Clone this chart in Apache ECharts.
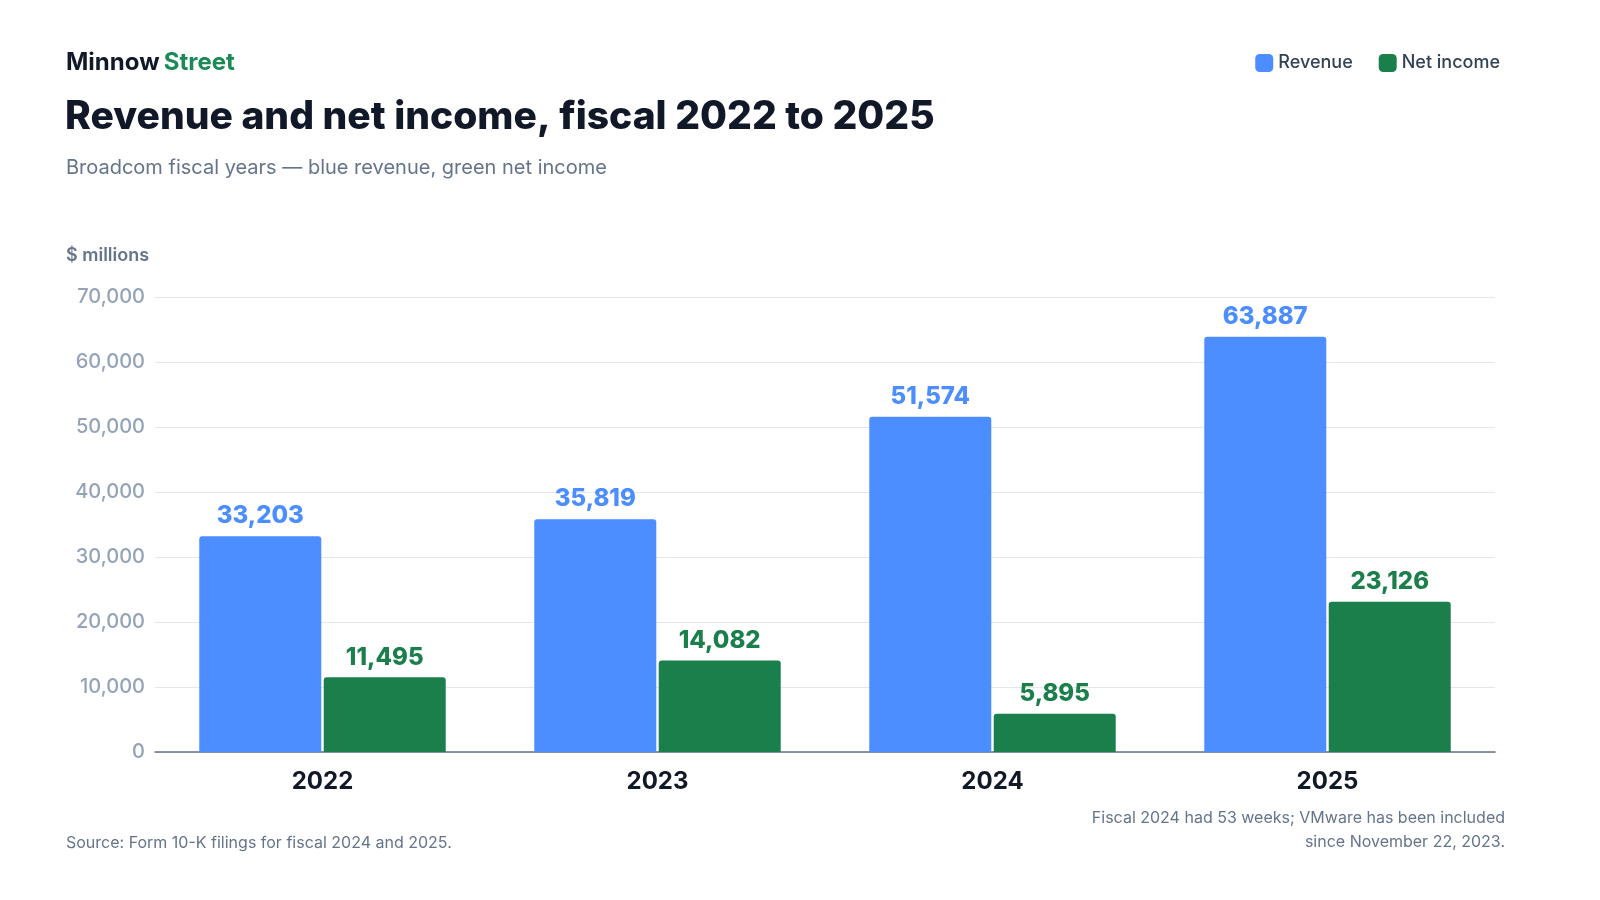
<!DOCTYPE html>
<html><head><meta charset="utf-8">
<script src="https://cdn.jsdelivr.net/npm/echarts@6/dist/echarts.min.js"></script>
<style>html,body{margin:0;padding:0;background:#fff}#c{width:1600px;height:900px}</style>
</head><body><div id="c"></div>
<script>
const years = ['2022', '2023', '2024', '2025'];
const revenue = [33203, 35819, 51574, 63887];
const netIncome = [11495, 14082, 5895, 23126];
const yTicks = [0, 10000, 20000, 30000, 40000, 50000, 60000, 70000];

const chart = echarts.init(document.getElementById('c'));
const fmt = v => v.toLocaleString('en-US');
const F = 'Inter, "Noto Sans", sans-serif';

chart.setOption({
  textStyle: { fontFamily: F },
  title: [
    { text: '{a|Minnow} {b|Street}', left: 61, top: 46,
      textStyle: { rich: {
        a: { fontFamily: F, fontSize: 24, fontWeight: 700, color: '#111827' },
        b: { fontFamily: F, fontSize: 24, fontWeight: 700, color: '#1b8a57' } } } },
    { text: 'Revenue and net income, fiscal 2022 to 2025', left: 60, top: 93,
      textStyle: { fontFamily: F, fontSize: 39, fontWeight: 800, color: '#111827' } },
    { text: 'Broadcom fiscal years — blue revenue, green net income', left: 61, top: 153,
      textStyle: { fontFamily: F, fontSize: 20, fontWeight: 400, color: '#64748b' } },
    { text: '$ millions', left: 61, top: 242,
      textStyle: { fontFamily: F, fontSize: 18, fontWeight: 600, color: '#64748b' } },
    { text: 'Source: Form 10-K filings for fiscal 2024 and 2025.', left: 61, top: 830,
      textStyle: { fontFamily: F, fontSize: 16, fontWeight: 400, color: '#64748b' } }
  ],
  graphic: [
    { type: 'text', x: 1505, y: 806,
      style: { text: 'Fiscal 2024 had 53 weeks; VMware has been included\nsince November 22, 2023.',
        align: 'right', verticalAlign: 'top', lineHeight: 24,
        font: '400 16px Inter, "Noto Sans", sans-serif', fill: '#64748b' } }
  ],
  legend: {
    right: 95, top: 49, itemWidth: 18, itemHeight: 18, itemGap: 26,
    icon: 'roundRect',
    textStyle: { fontFamily: F, fontSize: 18, fontWeight: 500, color: '#334155' }
  },
  grid: { left: 155, right: 105, top: 297, bottom: 148 },
  xAxis: {
    type: 'category', data: years,
    axisLine: { lineStyle: { color: '#64748b', width: 1.5 } },
    axisTick: { show: false },
    axisLabel: { fontFamily: F, fontSize: 24, fontWeight: 700, color: '#111827', margin: 18 }
  },
  yAxis: {
    type: 'value', min: yTicks[0], max: yTicks[yTicks.length - 1], interval: 10000,
    axisLine: { show: false }, axisTick: { show: false },
    splitLine: { lineStyle: { color: '#e5e7eb' } },
    axisLabel: { fontFamily: F, fontSize: 20, fontWeight: 500, color: '#94a3b8', margin: 10, formatter: fmt }
  },
  series: [
    { name: 'Revenue', type: 'bar', data: revenue, barWidth: 122, barGap: '2%',
      itemStyle: { color: '#4c8dff', borderRadius: [3, 3, 0, 0] },
      label: { show: true, position: 'top', distance: 8, formatter: p => fmt(p.value),
        fontFamily: F, fontSize: 24, fontWeight: 800, color: '#4c8dff' } },
    { name: 'Net income', type: 'bar', data: netIncome, barWidth: 122,
      itemStyle: { color: '#1b7f4b', borderRadius: [3, 3, 0, 0] },
      label: { show: true, position: 'top', distance: 8, formatter: p => fmt(p.value),
        fontFamily: F, fontSize: 24, fontWeight: 800, color: '#1b7f4b' } }
  ]
});
</script></body></html>
